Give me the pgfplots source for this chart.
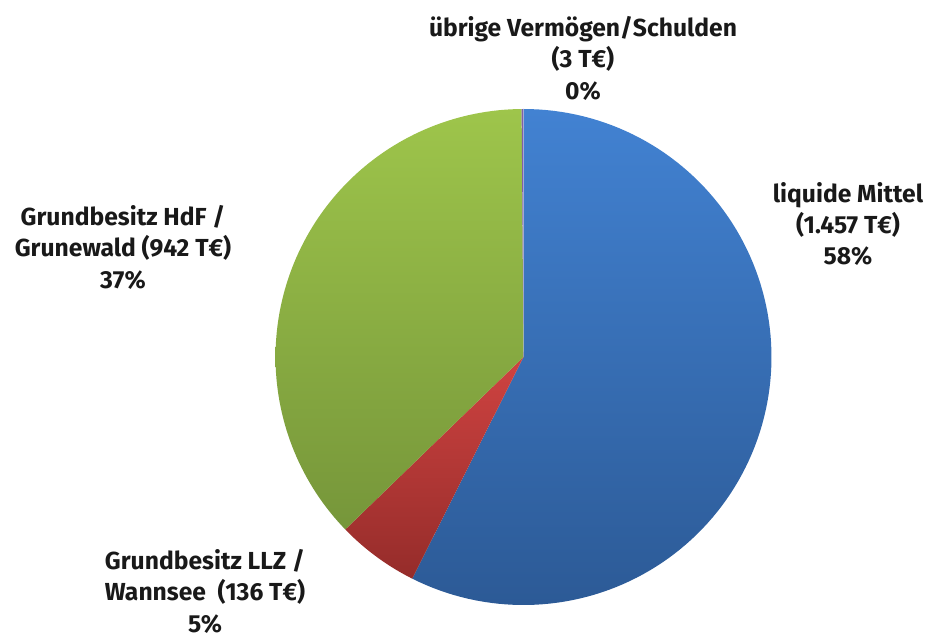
\documentclass[border=0pt]{standalone}
\usepackage{pgfplots}
\pgfplotsset{compat=1.18}
\usepackage{fontspec}
\setmainfont{Fira Sans}
\definecolor{blueT}{HTML}{4282D2}
\definecolor{blueB}{HTML}{2C5A96}
\definecolor{redT}{HTML}{CF4341}
\definecolor{redB}{HTML}{952C2A}
\definecolor{greenT}{HTML}{9EC54B}
\definecolor{greenB}{HTML}{76963A}
\definecolor{purp}{HTML}{8060A8}
\begin{document}
\begin{tikzpicture}
% values in T EUR
\def\vA{1457}\def\vB{136}\def\vC{942}\def\vD{3}
\pgfmathsetmacro\tot{\vA+\vB+\vC+\vD}
\pgfmathsetmacro\aA{90}
\pgfmathsetmacro\aB{\aA-360*(\vA/\tot)}
\pgfmathsetmacro\aC{\aB-360*(\vB/\tot)}
\pgfmathsetmacro\aD{\aC-360*(\vC/\tot)}
\pgfmathsetmacro\aE{\aD-360*(\vD/\tot)}
\begin{axis}[
  name=ax,
  scale only axis, width=14cm, height=9.598cm,
  xmin=0, xmax=935, ymin=0, ymax=641,
  hide axis, clip=false,
]
\addplot[draw=none, top color=blueT, bottom color=blueB, domain=\aA:\aB, samples=120, variable=\t]
  ({523.5+248*cos(t)},{284+248*sin(t)}) -- (axis cs:523.5,284) -- cycle;
\addplot[draw=none, top color=redT, bottom color=redB, domain=\aB:\aC, samples=30, variable=\t]
  ({523.5+248*cos(t)},{284+248*sin(t)}) -- (axis cs:523.5,284) -- cycle;
\addplot[draw=none, top color=greenT, bottom color=greenB, domain=\aC:\aD, samples=100, variable=\t]
  ({523.5+248*cos(t)},{284+248*sin(t)}) -- (axis cs:523.5,284) -- cycle;
\addplot[draw=none, fill=purp, domain=\aD:\aE, samples=5, variable=\t]
  ({523.5+248*cos(t)},{284+248*sin(t)}) -- (axis cs:523.5,284) -- cycle;
\begin{scope}[every node/.style={font=\bfseries\fontsize{10.5}{13.4}\selectfont, align=center, text=black!90}]
\node at (axis cs:583,583) {übrige Vermögen/Schulden\\(3 T€)\\0\%};
\node at (axis cs:848,417) {liquide Mittel\\(1.457 T€)\\58\%};
\node at (axis cs:123,394) {Grundbesitz HdF /\\Grunewald (942 T€)\\37\%};
\node[inner sep=1pt] at (axis cs:205,50) {Grundbesitz LLZ /\\Wannsee~~(136 T€)\\5\%};
\end{scope}
\end{axis}
\pgfresetboundingbox
\path[use as bounding box] (ax.south west) rectangle (ax.north east);
\end{tikzpicture}
\end{document}
